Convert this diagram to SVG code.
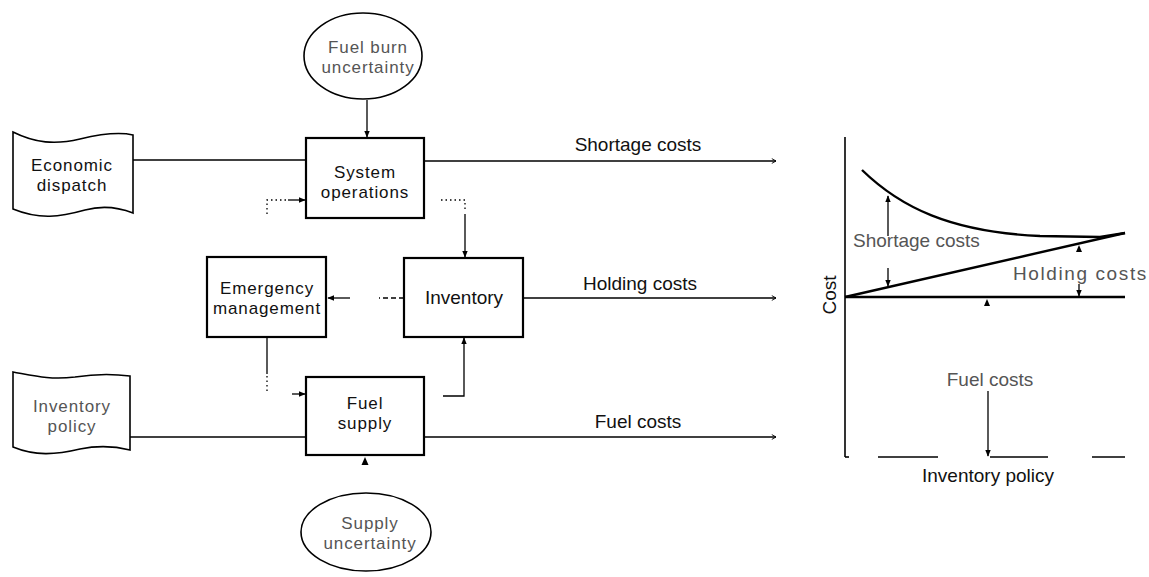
<svg xmlns="http://www.w3.org/2000/svg" width="1149" height="577" viewBox="0 0 1149 577">
  <style>
    .lbl { font-family: "Liberation Sans", Arial, sans-serif; font-size: 19px; fill: #111; text-anchor: middle; }
    .two { font-size: 17px; letter-spacing: 0.9px; }
    .faint { fill: #555; }
    .box { fill: #fff; stroke: #000; stroke-width: 2.2; }
    .doc { fill: #fff; stroke: #000; stroke-width: 1.6; }
    .oval { fill: #fff; stroke: #000; stroke-width: 1.6; }
    .wire { fill: none; stroke: #000; stroke-width: 1.3; }
    .dot { fill: none; stroke: #000; stroke-width: 1.3; stroke-dasharray: 1.5 3; }
    .axis { fill: none; stroke: #000; stroke-width: 1.6; }
    .curve { fill: none; stroke: #000; stroke-width: 2.4; }
  </style>
  <defs>
    <marker id="arrow" viewBox="0 0 10 10" refX="9" refY="5" markerWidth="7" markerHeight="7" orient="auto-start-reverse" markerUnits="userSpaceOnUse">
      <path d="M0,1 L10,5 L0,9 Z" fill="#000"/>
    </marker>
    <marker id="tick" viewBox="0 0 10 10" refX="9" refY="5" markerWidth="6" markerHeight="6" orient="auto" markerUnits="userSpaceOnUse">
      <path d="M2,1 L9,5 L2,9" fill="none" stroke="#000" stroke-width="1.5"/>
    </marker>
  </defs>

  <!-- connectors -->
  <g id="connectors">
    <!-- uncertainty into system operations -->
    <line class="wire" x1="367" y1="100" x2="367" y2="137" marker-end="url(#arrow)"/>
    <!-- economic dispatch -> system operations -->
    <line class="wire" x1="133" y1="160" x2="306" y2="160"/>
    <!-- emergency management -> system operations (feedback) -->
    <path class="dot" d="M267,214 V200 H286"/>
    <line class="wire" x1="288" y1="200" x2="305" y2="200" marker-end="url(#arrow)"/>
    <!-- system operations -> inventory -->
    <path class="dot" d="M441,200 H465 V212"/>
    <line class="wire" x1="465" y1="214" x2="465" y2="257" marker-end="url(#arrow)"/>
    <!-- inventory -> emergency management -->
    <line class="wire" x1="404" y1="298" x2="379" y2="298" stroke-dasharray="5 3"/>
    <line class="wire" x1="350" y1="298" x2="328" y2="298" marker-end="url(#arrow)"/>
    <!-- emergency management -> fuel supply -->
    <line class="wire" x1="267" y1="338" x2="267" y2="374"/>
    <line class="dot" x1="267" y1="376" x2="267" y2="394"/>
    <line class="wire" x1="292" y1="394" x2="305" y2="394" marker-end="url(#arrow)"/>
    <!-- fuel supply -> inventory -->
    <path class="wire" d="M443,396 H464 V338" marker-end="url(#arrow)"/>
    <!-- inventory policy -> fuel supply -->
    <line class="wire" x1="130" y1="437" x2="306" y2="437"/>
    <!-- supply uncertainty into fuel supply -->
    <path d="M365,457 L368.5,465 L361.5,465 Z" fill="#000"/>
    <!-- cost outputs -->
    <line class="wire" x1="424" y1="161" x2="776" y2="161" marker-end="url(#tick)"/>
    <line class="wire" x1="523" y1="298" x2="776" y2="298" marker-end="url(#tick)"/>
    <line class="wire" x1="424" y1="437" x2="776" y2="437" marker-end="url(#tick)"/>
  </g>

  <!-- cost labels on output lines -->
  <text class="lbl" x="638" y="151">Shortage costs</text>
  <text class="lbl" x="640" y="290">Holding costs</text>
  <text class="lbl" x="638" y="428">Fuel costs</text>

  <!-- nodes -->
  <g id="fuel-burn-uncertainty">
    <ellipse class="oval" cx="363" cy="56" rx="59" ry="43"/>
    <text class="lbl two faint" x="368" y="53">Fuel burn</text>
    <text class="lbl two faint" x="368" y="73">uncertainty</text>
  </g>

  <g id="economic-dispatch">
    <path class="doc" d="M13,132 C35,143 55,145 80,139 C105,133 120,132 133,135 L133,213 C115,206 100,206 85,210 C60,217 40,220 13,209 Z"/>
    <text class="lbl two" x="72" y="171">Economic</text>
    <text class="lbl two" x="72" y="191">dispatch</text>
  </g>

  <g id="system-operations">
    <rect class="box" x="306" y="138" width="118" height="80"/>
    <text class="lbl two" x="365" y="178">System</text>
    <text class="lbl two" x="365" y="198">operations</text>
  </g>

  <g id="emergency-management">
    <rect class="box" x="207" y="257" width="119" height="80" stroke-width="2.6"/>
    <text class="lbl two" x="267" y="294">Emergency</text>
    <text class="lbl two" x="267" y="314">management</text>
  </g>

  <g id="inventory">
    <rect class="box" x="404" y="258" width="119" height="79" stroke-width="2.6"/>
    <text class="lbl" x="464" y="304">Inventory</text>
  </g>

  <g id="fuel-supply">
    <rect class="box" x="306" y="377" width="118" height="78"/>
    <text class="lbl two" x="365" y="409">Fuel</text>
    <text class="lbl two" x="365" y="429">supply</text>
  </g>

  <g id="inventory-policy">
    <path class="doc" d="M13,372 C35,376 50,380 75,377 C100,373 115,374 130,376 L130,450 C110,445 95,446 80,449 C55,455 35,456 13,447 Z"/>
    <text class="lbl two faint" x="72" y="412">Inventory</text>
    <text class="lbl two faint" x="72" y="432">policy</text>
  </g>

  <g id="supply-uncertainty">
    <ellipse class="oval" cx="366" cy="532" rx="65" ry="39"/>
    <text class="lbl two faint" x="370" y="529">Supply</text>
    <text class="lbl two faint" x="370" y="549">uncertainty</text>
  </g>

  <!-- cost vs inventory policy chart -->
  <g id="cost-chart">
    <line class="axis" x1="845" y1="137" x2="845" y2="457"/>
    <line class="axis" x1="845" y1="457" x2="849" y2="457"/>
    <line class="axis" x1="878" y1="457" x2="938" y2="457"/>
    <line class="axis" x1="990" y1="457" x2="1048" y2="457"/>
    <line class="axis" x1="1092" y1="457" x2="1125" y2="457"/>

    <!-- fuel cost level, holding cost line, shortage cost curve -->
    <line class="curve" x1="845" y1="297" x2="1125" y2="297" stroke-width="2"/>
    <line class="curve" x1="845" y1="297" x2="1125" y2="233" stroke-width="2"/>
    <path class="curve" d="M862,170 C900,207 950,232 1040,236 L1100,237 L1125,233"/>

    <!-- dimension arrows -->
    <line class="wire" x1="888" y1="236" x2="888" y2="196" marker-end="url(#arrow)"/>
    <line class="wire" x1="888" y1="268" x2="888" y2="286" marker-end="url(#arrow)"/>
    <path d="M1079,245 L1082,252 L1076,252 Z" fill="#000"/>
    <line class="wire" x1="1079" y1="284" x2="1079" y2="296" marker-end="url(#arrow)"/>
    <path d="M987,299 L990,306 L984,306 Z" fill="#000"/>
    <line class="wire" x1="988" y1="391" x2="988" y2="456" marker-end="url(#arrow)"/>

    <text class="lbl faint" x="853" y="247" style="text-anchor:start">Shortage costs</text>
    <text class="lbl faint" x="1013" y="280" style="text-anchor:start; letter-spacing:1.6px">Holding costs</text>
    <text class="lbl faint" x="990" y="386">Fuel costs</text>
    <text class="lbl" x="988" y="482">Inventory policy</text>
    <text class="lbl" x="0" y="0" transform="translate(836,295) rotate(-90)">Cost</text>
  </g>
</svg>
